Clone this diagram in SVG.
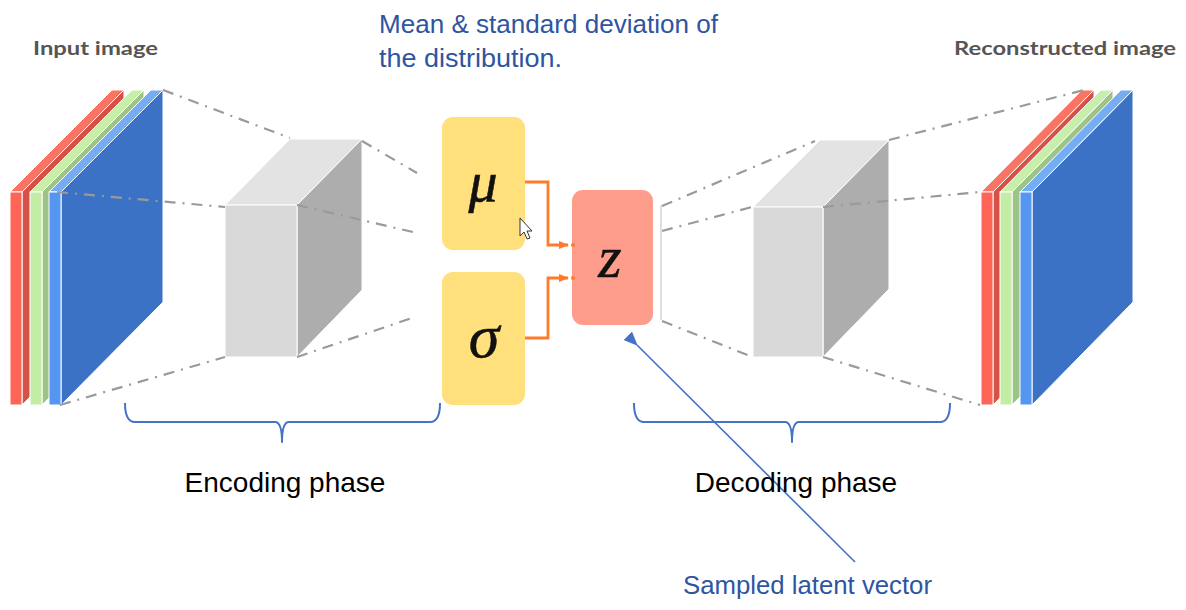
<svg xmlns="http://www.w3.org/2000/svg" width="1186" height="610" viewBox="0 0 1186 610">
<defs>
<style>
.dd{fill:none;stroke:#9a9a9a;stroke-width:2.2;stroke-dasharray:11 7 2 7}
.sep{stroke:#ffffff;stroke-width:1}
.rf{fill:#ff6557}.rt{fill:#fa7464}.rs{fill:#d4524a}
.gf{fill:#c3eda4}.gt{fill:#c8eeac}.gs{fill:#9dc487}
.bf{fill:#5597f0}.bt{fill:#74adf3}.bs{fill:#3b72c5}
.bxf{fill:#d9d9d9}.bxt{fill:#e3e3e3}.bxs{fill:#adadad}
.lbl{font-family:"Lato","Liberation Sans",sans-serif;font-weight:bold;font-size:18px;fill:#555555}
.note{font-family:"Liberation Sans",Arial,sans-serif;font-size:25px;fill:#2e559f}
.phase{font-family:"Liberation Sans",Arial,sans-serif;font-size:28px;fill:#000000}
.greek{font-family:"Liberation Serif","DejaVu Serif",serif;font-style:italic;fill:#111111;stroke:#111111;stroke-width:0.5;text-anchor:middle}
.brace{fill:none;stroke:#4472c4;stroke-width:2;stroke-linejoin:round}
.orange{fill:none;stroke:#ff7a2a;stroke-width:2.8}
</style>
<marker id="oa" markerWidth="10" markerHeight="8" refX="9" refY="4" orient="auto" markerUnits="userSpaceOnUse">
<path d="M0,0 L10,4 L0,8 Z" fill="#ff7a2a"/>
</marker>
<marker id="ba" markerWidth="14" markerHeight="12" refX="1" refY="6" orient="auto" markerUnits="userSpaceOnUse">
<path d="M14,0 L0,6 L14,12 Z" fill="#4472c4"/>
</marker>
</defs>
<rect width="1186" height="610" fill="#ffffff"/>

<g id="input-image">
<polygon class="rs sep" points="22,192 124,90 124,302 22,405"/>
<polygon class="rt sep" points="10,192 22,192 124,90 112,90"/>
<rect class="rf sep" x="10" y="192" width="12" height="213"/>
<polygon class="gs sep" points="42,192 144,90 144,302 42,405"/>
<polygon class="gt sep" points="30,192 42,192 144,90 132,90"/>
<rect class="gf sep" x="30" y="192" width="12" height="213"/>
<polygon class="bs sep" points="61,192 163,90 163,302 61,405"/>
<polygon class="bt sep" points="49,192 61,192 163,90 151,90"/>
<rect class="bf sep" x="49" y="192" width="12" height="213"/>
</g>

<g id="encoder-block">
<polygon class="bxt sep" points="225,205 297,205 362,139 290,139"/>
<polygon class="bxs sep" points="297,205 362,139 362,290 297,357"/>
<rect class="bxf sep" x="225" y="205" width="72" height="152"/>
</g>

<g id="decoder-block">
<polygon class="bxt sep" points="753,207 823,207 889,140 820,140"/>
<polygon class="bxs sep" points="823,207 889,140 889,289 823,357"/>
<rect class="bxf sep" x="753" y="207" width="70" height="150"/>
</g>

<g id="output-image">
<polygon class="rs sep" points="993,192 1094,90 1094,302 993,405"/>
<polygon class="rt sep" points="981,192 993,192 1094,90 1082,90"/>
<rect class="rf sep" x="981" y="192" width="12" height="213"/>
<polygon class="gs sep" points="1012,192 1113,90 1113,302 1012,405"/>
<polygon class="gt sep" points="1000,192 1012,192 1113,90 1101,90"/>
<rect class="gf sep" x="1000" y="192" width="12" height="213"/>
<polygon class="bs sep" points="1032,192 1133,90 1133,302 1032,405"/>
<polygon class="bt sep" points="1020,192 1032,192 1133,90 1121,90"/>
<rect class="bf sep" x="1020" y="192" width="12" height="213"/>
</g>

<g id="mu">
<rect x="442" y="117" width="83" height="133" rx="11" fill="#ffe07c"/>
<text class="greek" x="483" y="201" font-size="58">μ</text>
</g>
<g id="sigma">
<rect x="442" y="272" width="83" height="133" rx="11" fill="#ffe07c"/>
<text class="greek" x="484" y="357" font-size="62">σ</text>
</g>
<g id="z">
<rect x="572" y="190" width="81" height="135" rx="11" fill="#ff9d8d"/>
<text class="greek" x="610" y="277" font-size="60">z</text>
</g>

<g id="connectors">
<path class="dd" d="M163,90 L290,138"/>
<path class="dd" d="M362,141 L417,173"/>
<path class="dd" d="M57,192 L225,207"/>
<path class="dd" d="M297,205 L417,233"/>
<path class="dd" d="M60,405 L225,357"/>
<path class="dd" d="M297,357 L412,318"/>
<path class="dd" d="M662,206 L815,141"/>
<path class="dd" d="M662,231 L752,207"/>
<path class="dd" d="M662,321 L750,356"/>
<path class="dd" d="M889,140 L1088,89"/>
<path class="dd" d="M823,207 L980,192"/>
<path class="dd" d="M823,357 L980,405"/>
<path d="M661,205 L661,320" stroke="#c8c8c8" stroke-width="1.2" fill="none"/>
<path class="orange" d="M525,182 L548,182 L548,245 L568,245" marker-end="url(#oa)"/>
<path class="orange" d="M525,338 L548,338 L548,278 L568,278" marker-end="url(#oa)"/>
<circle cx="573" cy="245" r="2" fill="#ff7a2a"/>
<circle cx="573" cy="278" r="2" fill="#ff7a2a"/>
<path d="M855,562 L637,345" stroke="#4472c4" stroke-width="1.6" fill="none" marker-end="url(#ba)"/>
<path class="brace" d="M125,403 Q125,422 135,422 L275,422 Q282,422 282,442 Q282,422 289,422 L430,422 Q440,422 440,403"/>
<path class="brace" d="M634,403 Q634,422 644,422 L785,422 Q792,422 792,442 Q792,422 799,422 L940,422 Q950,422 950,403"/>
</g>

<path d="M520,218 L520,236 L524,232 L527,239 L530,238 L527,231 L532,231 Z" fill="#ffffff" stroke="#333333" stroke-width="1"/>

<text class="lbl" x="33" y="55" textLength="125" lengthAdjust="spacingAndGlyphs">Input image</text>
<text class="lbl" x="954" y="55" textLength="222" lengthAdjust="spacingAndGlyphs">Reconstructed image</text>
<text class="note" x="379" y="33" textLength="339" lengthAdjust="spacingAndGlyphs">Mean &amp; standard deviation of</text>
<text class="note" x="379" y="67" textLength="183" lengthAdjust="spacingAndGlyphs">the distribution.</text>
<text class="phase" x="285" y="492" text-anchor="middle">Encoding phase</text>
<text class="phase" x="796" y="492" text-anchor="middle">Decoding phase</text>
<text class="note" x="683" y="594" textLength="249" lengthAdjust="spacingAndGlyphs">Sampled latent vector</text>
</svg>
